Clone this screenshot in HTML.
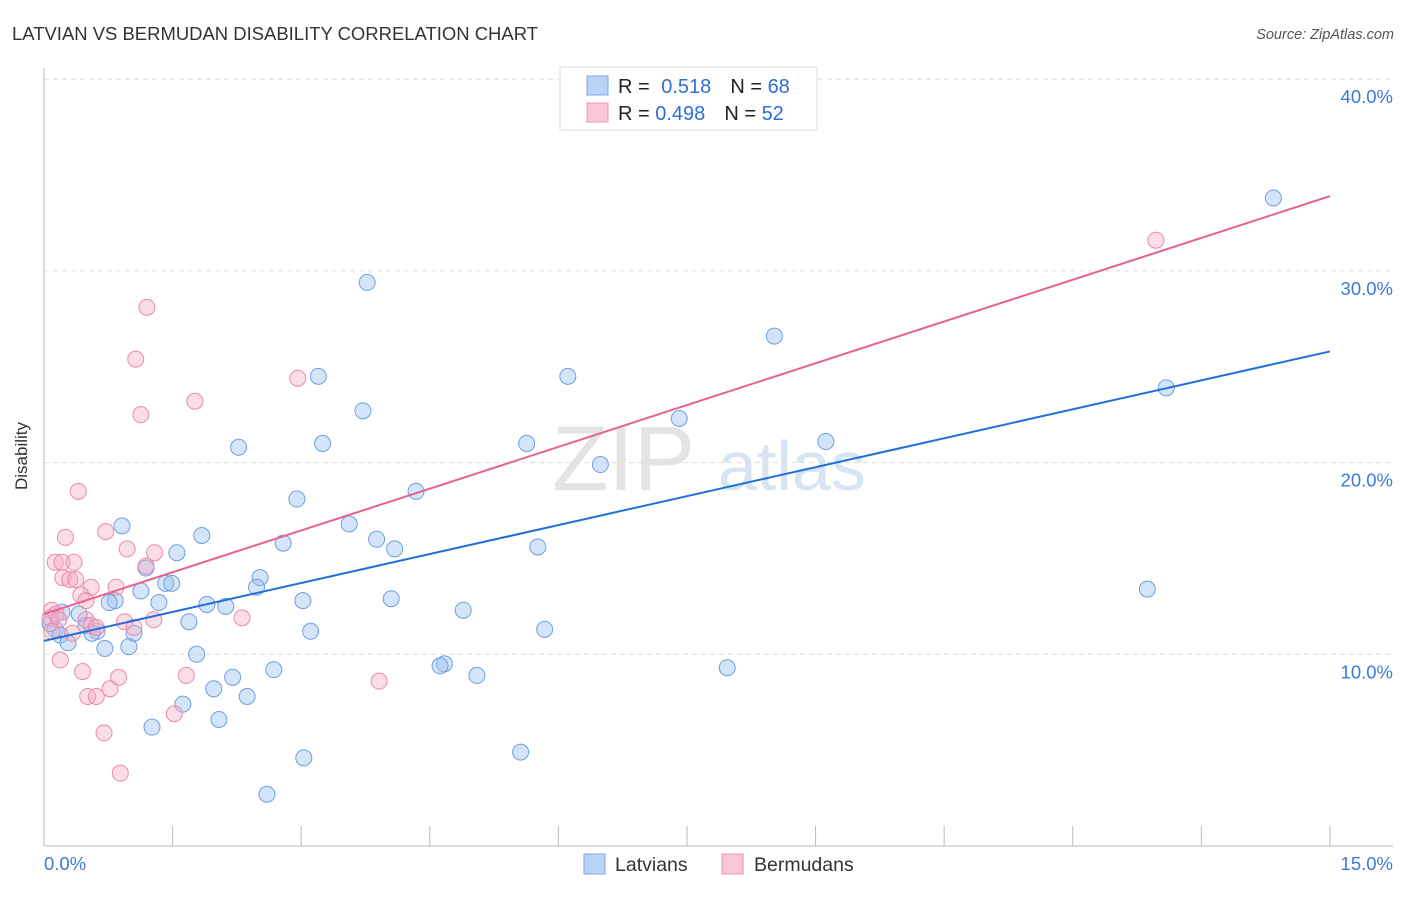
<!DOCTYPE html>
<html><head><meta charset="utf-8"><style>
body{margin:0;background:#fff;font-family:"Liberation Sans",sans-serif;}
svg text{font-family:"Liberation Sans",sans-serif;}
</style></head><body>
<svg id="chart" width="1406" height="892" xmlns="http://www.w3.org/2000/svg">
<text x="12" y="40" font-size="18" fill="#333" textLength="526" lengthAdjust="spacingAndGlyphs">LATVIAN VS BERMUDAN DISABILITY CORRELATION CHART</text>
<text x="1394" y="39" font-size="14.5" fill="#555" text-anchor="end" font-style="italic">Source: ZipAtlas.com</text>
<text x="27" y="456" font-size="17" fill="#333" text-anchor="middle" transform="rotate(-90 27 456)">Disability</text>
<g><text x="552" y="490" font-size="92" fill="#e4e4e4" font-family="Liberation Serif">ZIP</text><text x="718" y="490" font-size="70" fill="#d6e4f3">atlas</text></g>
<g id="grid"></g><g id="axes"></g><g id="marks"></g>
<g>
<rect x="560" y="67" width="257" height="63" fill="#fff" stroke="#ddd"/>
<rect x="587" y="76" width="21" height="19" fill="#b8d3f5" stroke="#7aa7e6"/>
<text x="618" y="93" font-size="20" fill="#222">R = <tspan fill="#2f6fd6" dx="6">0.518</tspan><tspan dx="19" fill="#222">N = </tspan><tspan fill="#2f6fd6">68</tspan></text>
<rect x="587" y="103" width="21" height="19" fill="#f9c8d6" stroke="#ee95b0"/>
<text x="618" y="120" font-size="20" fill="#222">R = <tspan fill="#2f6fd6">0.498</tspan><tspan dx="19" fill="#222">N = </tspan><tspan fill="#2f6fd6">52</tspan></text>
</g>
<g>
<rect x="584" y="854" width="21" height="20" fill="#b8d3f5" stroke="#7aa7e6"/>
<text x="615" y="871" font-size="19.5" fill="#333">Latvians</text>
<rect x="722" y="854" width="21" height="20" fill="#f9c8d6" stroke="#ee95b0"/>
<text x="754" y="871" font-size="19.5" fill="#333">Bermudans</text>
</g>
</svg>
<script>
const xTicks=[0,1.5,3,4.5,6,7.5,9,10.5,12,13.5,15];
const yTicks=[10,20,30,40];
const yTickLabels=["10.0%","20.0%","30.0%","40.0%"];
const xEndLabels=["0.0%","15.0%"];
const latX=[14.34,3.77,8.52,3.20,6.11,13.09,3.72,7.41,2.27,3.25,5.63,9.12,6.49,4.34,2.95,0.91,3.56,1.84,3.88,2.79,4.09,5.76,1.55,1.19,2.52,1.42,1.49,2.48,1.13,12.87,0.83,0.76,1.34,3.02,4.05,1.90,2.12,4.89,0.41,1.69,5.84,3.11,0.49,0.62,0.56,1.05,0.13,0.19,0.28,0.99,0.71,1.78,4.67,4.62,2.68,7.97,5.05,2.20,1.98,2.37,1.62,2.04,1.26,3.03,5.56,2.60,0.07,0.21];
const latY=[33.8,29.4,26.6,24.5,24.5,23.9,22.7,22.3,20.8,21.0,21.0,21.1,19.9,18.5,18.1,16.7,16.8,16.2,16.0,15.8,15.5,15.6,15.3,14.5,14.0,13.7,13.7,13.5,13.3,13.4,12.8,12.7,12.7,12.8,12.9,12.6,12.5,12.3,12.1,11.7,11.3,11.2,11.5,11.2,11.1,11.1,11.3,11.0,10.6,10.4,10.3,10.0,9.5,9.4,9.2,9.3,8.9,8.8,8.2,7.8,7.4,6.6,6.2,4.6,4.9,2.7,11.6,12.2];
const berX=[12.97,1.20,1.07,2.96,1.76,1.13,0.40,0.25,0.72,0.97,1.29,0.13,0.21,0.35,1.19,0.22,0.30,0.37,0.55,0.84,0.43,0.49,0.09,0.14,0.07,0.17,0.49,2.31,1.28,0.94,0.55,1.05,0.33,0.61,0.19,0.45,1.66,0.87,3.91,0.77,0.51,0.61,1.52,0.70,0.89,0.09];
const berY=[31.6,28.1,25.4,24.4,23.2,22.5,18.5,16.1,16.4,15.5,15.3,14.8,14.8,14.8,14.6,14.0,13.9,13.9,13.5,13.5,13.1,12.8,12.3,12.1,11.9,11.8,11.8,11.9,11.8,11.7,11.5,11.4,11.1,11.4,9.7,9.1,8.9,8.8,8.6,8.2,7.8,7.8,6.9,5.9,3.8,11.2];
const latLine=[10.7,25.8];
const berLine=[12.1,33.9];
const NS="http://www.w3.org/2000/svg";
const sx=v=>44+v*85.73, sy=v=>846-v*19.17;
function mk(tag,attrs,parent){const e=document.createElementNS(NS,tag);for(const k in attrs)e.setAttribute(k,attrs[k]);document.getElementById(parent).appendChild(e);return e;}
yTicks.forEach((t,i)=>{
 const g=mk('line',{x1:44,x2:1393,y1:sy(t),y2:sy(t),stroke:'#ddd','stroke-dasharray':'5,4'},'grid');
 
 
 const l=mk('text',{x:1393,y:sy(t)+24,'font-size':18.5,fill:'#3b7bd8','text-anchor':'end'},'axes');
 l.textContent=yTickLabels[i];
 
 
});
const ax=mk('line',{x1:44,x2:1393,y1:846,y2:846,stroke:'#bbb'},'axes');


const ay=mk('line',{x1:44,x2:44,y1:68,y2:846,stroke:'#bbb'},'axes');


xTicks.forEach(t=>{const e=mk('line',{x1:sx(t),x2:sx(t),y1:826,y2:846,stroke:'#bbb'},'axes');
 
 });
const xl0=mk('text',{x:44,y:870,'font-size':18.5,fill:'#3b7bd8'},'axes');xl0.textContent=xEndLabels[0];


const xl1=mk('text',{x:1393,y:870,'font-size':18.5,fill:'#3b7bd8','text-anchor':'end'},'axes');xl1.textContent=xEndLabels[1];


latX.forEach((x,i)=>{const c=mk('circle',{cx:sx(x),cy:sy(latY[i]),r:8,fill:'rgba(150,190,240,0.4)',stroke:'#6d9fe2','stroke-width':1},'marks');
 
 });
berX.forEach((x,i)=>{const c=mk('circle',{cx:sx(x),cy:sy(berY[i]),r:8,fill:'rgba(245,170,195,0.4)',stroke:'#ea8aaa','stroke-width':1},'marks');
 
 });
const l1=mk('line',{x1:sx(0),y1:sy(latLine[0]),x2:sx(15),y2:sy(latLine[1]),stroke:'#2170d8','stroke-width':2},'marks');


const l2=mk('line',{x1:sx(0),y1:sy(berLine[0]),x2:sx(15),y2:sy(berLine[1]),stroke:'#e8628e','stroke-width':2},'marks');


</script>
</body></html>
